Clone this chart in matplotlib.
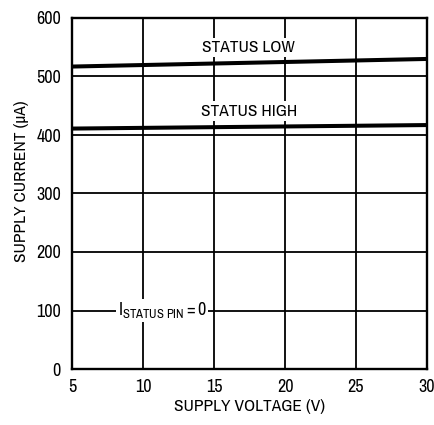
import matplotlib
matplotlib.use("Agg")
import matplotlib.pyplot as plt

FAM = ['Archivo Narrow', 'DejaVu Sans']
plt.rcParams['font.family'] = FAM
plt.rcParams['mathtext.fontset'] = 'custom'
plt.rcParams['mathtext.rm'] = 'Archivo Narrow'
plt.rcParams['mathtext.it'] = 'Archivo Narrow:italic'

voltage = [5, 30]
status_low = [517, 530]
status_high = [411, 417]
xticks = [5, 10, 15, 20, 25, 30]
yticks = [0, 100, 200, 300, 400, 500, 600]

fig = plt.figure(figsize=(4.34, 4.25), dpi=100)
ax = fig.add_axes([72/434, 1-369/425, 355/434, 351/425])
ax.set_xlim(5, 30)
ax.set_ylim(0, 600)
ax.set_xticks(xticks)
ax.set_yticks(yticks)
ax.grid(True, color='black', linewidth=1.3)
ax.tick_params(length=0, labelsize=13)
ax.tick_params(axis='x', pad=7)
ax.tick_params(axis='y', pad=8)
for s in ax.spines.values():
    s.set_linewidth(1.7)

ax.plot(voltage, status_low, color='black', linewidth=2.9, solid_capstyle='butt')
ax.plot(voltage, status_high, color='black', linewidth=2.9, solid_capstyle='butt')

box = dict(facecolor='white', edgecolor='none', pad=1.5)
ax.text(17.46, 550, 'STATUS LOW', ha='center', va='center', fontsize=12.5, bbox=box)
ax.text(17.5, 441, 'STATUS HIGH', ha='center', va='center', fontsize=12.5, bbox=box)
ax.text(11.34, 100, r'$\mathregular{I_{STATUS\ PIN}=0}$', ha='center', va='center', fontsize=13,
        bbox=dict(facecolor='white', edgecolor='none', pad=1))

ax.set_xlabel('SUPPLY VOLTAGE (V)', fontsize=12.5, labelpad=3)
ax.set_ylabel('SUPPLY CURRENT (µA)', fontsize=12.5, labelpad=5)
ax.yaxis.label.set_y(0.536)

fig.savefig('out.png', dpi=100)
